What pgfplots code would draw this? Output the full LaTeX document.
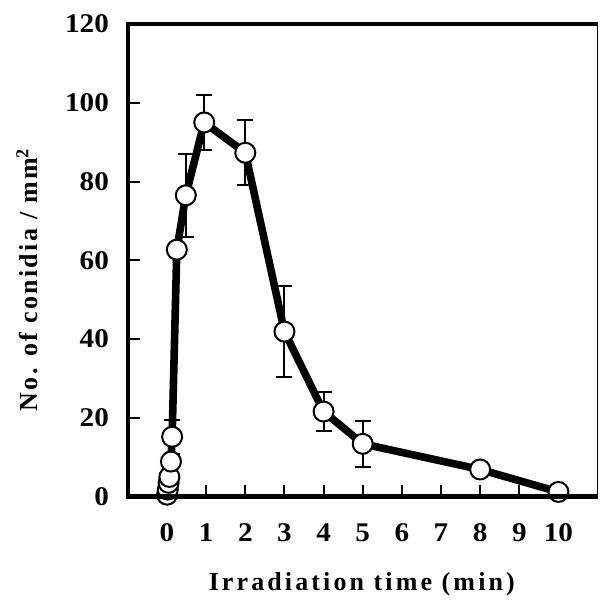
\documentclass[border=0pt]{standalone}
\usepackage{fontspec}
\setmainfont{Liberation Serif}
\newfontfamily\tickfont[FakeStretch=1.08]{Liberation Serif}
\newfontfamily\labfont[LetterSpace=9]{Liberation Serif}
\newfontfamily\xlabfont[LetterSpace=12]{Liberation Serif}
\usepackage{pgfplots}
\pgfplotsset{compat=1.18}

\begin{document}
\begin{tikzpicture}
\begin{axis}[
  scale only axis,
  width=235pt, height=236.5pt,
  xmin=-1, xmax=11, ymin=0, ymax=120,
  xtick={0,1,...,10}, ytick={0,20,...,120},
  tick pos=left, tick align=inside,
  major tick length=6pt,
  tick style={line width=1pt, black},
  axis line style={draw=none},
  clip=false,
  /pgf/number format/assume math mode=true,
  tick label style={font=\fontsize{13.5}{15}\selectfont\tickfont\bfseries},
  xticklabel shift=10pt,
  yticklabel shift=6pt,
  xlabel={Irradiation time (min)},
  ylabel={No. of conidia / mm\textsuperscript{2}},
  label style={font=\fontsize{13}{15}\selectfont\labfont\bfseries},
  xlabel style={at={(axis description cs:0.498,-0.186)}, anchor=center,
    font=\fontsize{13}{15}\selectfont\xlabfont\bfseries},
  ylabel style={at={(axis description cs:-0.215,0.459)}, anchor=center},
  after end axis/.code={
    \draw[line width=2.2pt, line join=miter, black]
      (rel axis cs:1,1) -- (rel axis cs:0,1) -- (rel axis cs:0,0) -- (rel axis cs:1,0);
    \draw[line width=0.5pt, black] (rel axis cs:1,0) -- (rel axis cs:1,1);
    \path (rel axis cs:-0.2723,-0.2241) rectangle (rel axis cs:1.0043,1.0507);
  },
]
  \addplot[black, line width=3.8pt, line join=round,
    mark=*, mark size=5pt,
    mark options={fill=white, draw=black, line width=1pt},
    error bars/.cd, y dir=both, y explicit,
    error bar style={line width=1pt, black},
    error mark options={rotate=90, mark size=4pt, line width=1pt, black}]
  coordinates {
    (0, 0.5) +- (0,0)
    (0.02, 1.8) +- (0,0)
    (0.04, 3.5) +- (0,0)
    (0.06, 5.0) +- (0,0)
    (0.1, 8.9) +- (0,0)
    (0.13, 15.2) +- (0,4.3)
    (0.25, 62.7) +- (0,0)
    (0.48, 76.5) +- (0,10.6)
    (0.95, 95.0) +- (0,7.0)
    (2, 87.3) +- (0,8.3)
    (3, 41.9) +- (0,11.5)
    (4, 21.6) +- (0,5.0)
    (5, 13.4) +- (0,5.8)
    (8, 6.9) +- (0,0.8)
    (10, 1.2) +- (0,0)
  };
\end{axis}
\end{tikzpicture}
\end{document}
